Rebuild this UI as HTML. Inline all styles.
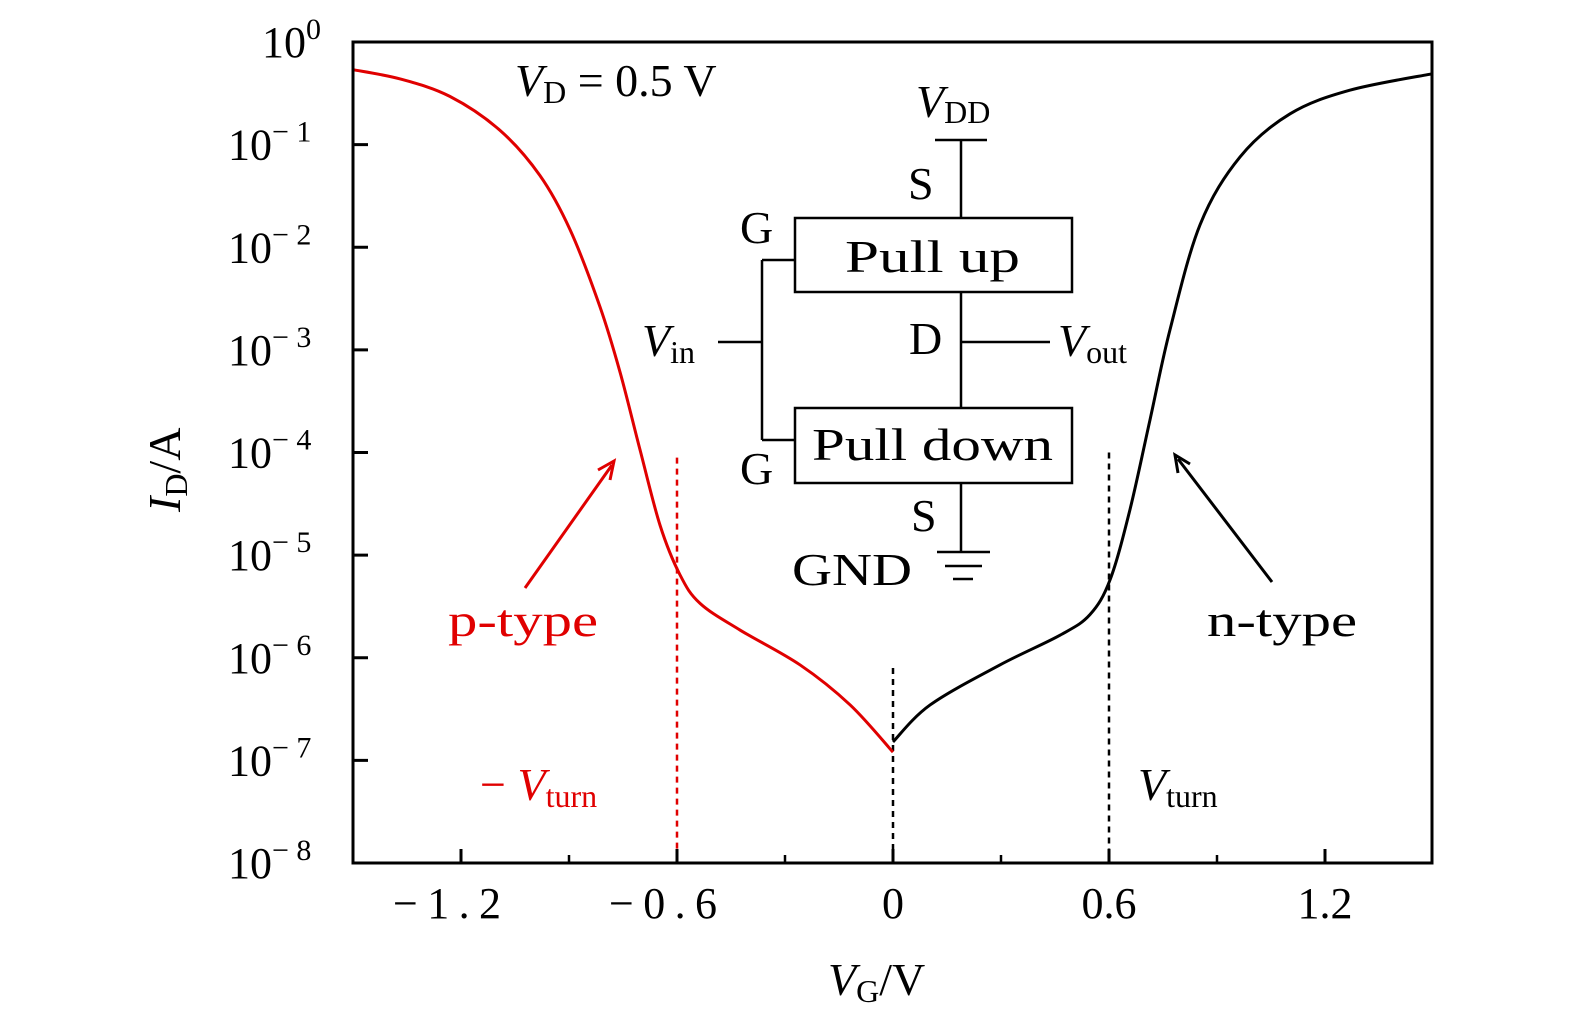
<!DOCTYPE html>
<html><head><meta charset="utf-8"><style>
html,body{margin:0;padding:0;background:#fff;}
svg{display:block;font-family:"Liberation Serif",serif;}
</style></head><body>
<svg id="chart" width="1575" height="1024" viewBox="0 0 1575 1024">
<g id="marks"></g>
<rect x="353" y="42" width="1079" height="821" fill="none" stroke="#000" stroke-width="3"/>
<g id="axes"></g>
<g stroke="#000" stroke-width="2.5" fill="none">
<line x1="935" y1="140" x2="987" y2="140"/>
<line x1="961" y1="140" x2="961" y2="218"/>
<rect x="795" y="218" width="277" height="74"/>
<line x1="961" y1="292" x2="961" y2="408"/>
<rect x="795" y="408" width="277" height="75"/>
<line x1="961" y1="483" x2="961" y2="552"/>
<line x1="937" y1="552" x2="990" y2="552"/>
<line x1="945" y1="566" x2="982" y2="566"/>
<line x1="953" y1="579" x2="973" y2="579"/>
<line x1="718" y1="342" x2="762" y2="342"/>
<line x1="762" y1="260" x2="762" y2="440"/>
<line x1="762" y1="260" x2="795" y2="260"/>
<line x1="762" y1="440" x2="795" y2="440"/>
<line x1="961" y1="342" x2="1050" y2="342"/>
</g>
<g font-size="46" fill="#000">
<text x="845" y="272" textLength="175" lengthAdjust="spacingAndGlyphs">Pull up</text>
<text x="812" y="460" textLength="241" lengthAdjust="spacingAndGlyphs">Pull down</text>
<text x="740" y="243">G</text>
<text x="740" y="484">G</text>
<text x="908" y="199">S</text>
<text x="909" y="354">D</text>
<text x="911" y="531">S</text>
<text x="792" y="585" textLength="120" lengthAdjust="spacingAndGlyphs">GND</text>
<text x="916" y="117"><tspan font-style="italic">V</tspan><tspan font-size="32" dy="6">DD</tspan></text>
<text x="642" y="356"><tspan font-style="italic">V</tspan><tspan font-size="32" dy="7">in</tspan></text>
<text x="1058" y="356"><tspan font-style="italic">V</tspan><tspan font-size="32" dy="7">out</tspan></text>
<text x="515" y="96"><tspan font-style="italic">V</tspan><tspan font-size="32" dy="7">D</tspan><tspan dy="-7"> = 0.5 V</tspan></text>
<text x="448" y="636" fill="#e00000" textLength="150" lengthAdjust="spacingAndGlyphs">p-type</text>
<text x="1207" y="636" textLength="150" lengthAdjust="spacingAndGlyphs">n-type</text>
<text x="480" y="800" fill="#e00000">− <tspan font-style="italic">V</tspan><tspan font-size="32" dy="7">turn</tspan></text>
<text x="1138" y="800"><tspan font-style="italic">V</tspan><tspan font-size="32" dy="7">turn</tspan></text>
<text x="828" y="995"><tspan font-style="italic">V</tspan><tspan font-size="32" dy="7">G</tspan><tspan dy="-7">/V</tspan></text>
<text transform="translate(180,512) rotate(-90)"><tspan font-style="italic">I</tspan><tspan font-size="32" dy="7">D</tspan><tspan dy="-7">/A</tspan></text>
</g>
<g>
<line x1="525" y1="588" x2="612" y2="465" stroke="#e00000" stroke-width="3"/>
<polyline points="598,470 614,461 610,480" fill="none" stroke="#e00000" stroke-width="3"/>
<line x1="1272" y1="582" x2="1178" y2="459" stroke="#000" stroke-width="3"/>
<polyline points="1190,464 1175,455 1178,473" fill="none" stroke="#000" stroke-width="3"/>
</g>
</svg>
<script>
const pV=[-1.5,-1.369,-1.231,-1.092,-0.981,-0.897,-0.814,-0.758,-0.703,-0.647,-0.592,-0.536,-0.425,-0.258,-0.119,0];
const pLog=[-0.27,-0.36,-0.53,-0.86,-1.30,-1.83,-2.58,-3.22,-3.97,-4.71,-5.19,-5.47,-5.73,-6.07,-6.46,-6.92];
const nV=[0,0.103,0.297,0.464,0.547,0.603,0.658,0.714,0.769,0.853,0.964,1.103,1.269,1.497];
const nLog=[-6.82,-6.46,-6.07,-5.78,-5.58,-5.24,-4.56,-3.68,-2.81,-1.78,-1.12,-0.70,-0.47,-0.31];
const xTicks=[-1.2,-0.6,0,0.6,1.2];
const xTickLabels=["−1.2","−0.6","0","0.6","1.2"];
const xMinor=[-0.9,-0.3,0.3,0.9];
const yExps=[0,-1,-2,-3,-4,-5,-6,-7,-8];
const turnV=[-0.6,0,0.6];
const NS='http://www.w3.org/2000/svg';
const X=v=>893+v*360;
const Y=l=>42-l*102.625;
function mk(t,a,p){const e=document.createElementNS(NS,t);for(const k in a)e.setAttribute(k,a[k]);p.appendChild(e);return e;}
const marks=document.getElementById('marks'),axes=document.getElementById('axes');
function path(vs,ls){const P=vs.map((v,i)=>[X(v),Y(ls[i])]);let d='M'+P[0][0]+','+P[0][1];
for(let i=0;i<P.length-1;i++){const p0=P[i-1]||P[i],p1=P[i],p2=P[i+1],p3=P[i+2]||p2;
d+=` C${p1[0]+(p2[0]-p0[0])/6},${p1[1]+(p2[1]-p0[1])/6} ${p2[0]-(p3[0]-p1[0])/6},${p2[1]-(p3[1]-p1[1])/6} ${p2[0]},${p2[1]}`;}return d;}
const dashTop=[Y(-4.05),Y(-6.1),Y(-4.0)];
turnV.forEach((v,i)=>{const l=mk('line',{x1:X(v),x2:X(v),y1:dashTop[i],y2:863,stroke:v<0?'#e00000':'#000','stroke-width':2.5,'stroke-dasharray':'6,5'},marks);

});
const pc=mk('path',{d:path(pV,pLog),fill:'none',stroke:'#e00000','stroke-width':3},marks);


const nc=mk('path',{d:path(nV,nLog),fill:'none',stroke:'#000','stroke-width':3},marks);


xTicks.forEach((v,i)=>{const t=mk('line',{x1:X(v),x2:X(v),y1:863,y2:849,stroke:'#000','stroke-width':3},axes);


const neg=xTickLabels[i].startsWith('−');
const tx=mk('text',{x:X(v)+(neg?-14:0),y:918,'text-anchor':'middle','font-size':44},axes);
if(neg){tx.setAttribute('textLength',108);tx.setAttribute('lengthAdjust','spacing');}
tx.textContent=xTickLabels[i];

});
xMinor.forEach(v=>{const t=mk('line',{x1:X(v),x2:X(v),y1:863,y2:855,stroke:'#000','stroke-width':2.5},axes);

});
yExps.forEach(e=>{const t=mk('line',{x1:353,x2:368,y1:Y(e),y2:Y(e),stroke:'#000','stroke-width':3},axes);


const tx=mk('text',{x:e===0?262:228,y:Y(e)+15,'font-size':44},axes);


const a=mk('tspan',{},tx);a.textContent='10';const b=mk('tspan',{dy:-18,'font-size':30},tx);b.textContent=e===0?'0':'− '+(-e);});
</script>
</body></html>
